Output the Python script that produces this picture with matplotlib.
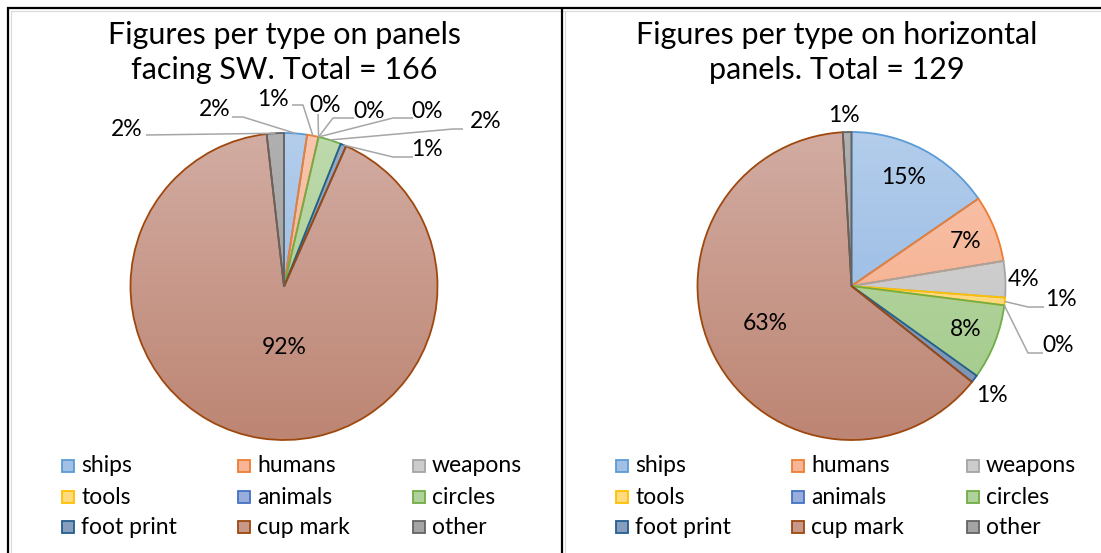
import numpy as np
import matplotlib
matplotlib.use("Agg")
import matplotlib.pyplot as plt
from matplotlib.colors import to_rgb
from matplotlib.patches import Rectangle

W, H = 1101, 553

# ---- data -------------------------------------------------------------
categories = ["ships", "humans", "weapons", "tools", "animals",
              "circles", "foot print", "cup mark", "other"]
# number of figures per type, panels facing SW
sw_counts = [4, 2, 0, 0, 0, 4, 1, 152, 3]
# share of figures per type (%), horizontal panels
horizontal_share = [15.4, 7.0, 3.8, 0.8, 0.0, 7.9, 0.8, 63.4, 0.9]
sw_title = "Figures per type on panels\nfacing SW. Total = 166"
horizontal_title = "Figures per type on horizontal\npanels. Total = 129"

# ---- styling ----------------------------------------------------------
edge_colors = ["#5B9BD5", "#ED7D31", "#A5A5A5", "#FFC000", "#4472C4",
               "#70AD47", "#255E91", "#9E480E", "#636363"]
fill_top = ["#B3CDEB", "#F9C6AE", "#DADADA", "#FFE49E", "#A9BBE2",
            "#BFDAAD", "#97ABC8", "#D2ACA2", "#B0B0B0"]
fill_bottom = ["#8DB3E2", "#F3A47F", "#BDBDBD", "#FFD060", "#889FD5",
               "#A0C987", "#7890B5", "#BD8573", "#989898"]

FONT = ["Lato", "DejaVu Sans"]
plt.rcParams["font.family"] = FONT
LABEL_SIZE = 16.5
TITLE_SIZE = 22

fig = plt.figure(figsize=(W / 100, H / 100), dpi=100)
ax = fig.add_axes([0, 0, 1, 1])


def Y(py):
    """Convert a top-down pixel row into the axes' bottom-up coordinate."""
    return H - py


def gradient(top, bottom, n=256):
    t = np.linspace(0, 1, n)[:, None]
    a = np.array(to_rgb(bottom))
    b = np.array(to_rgb(top))
    return (a * (1 - t) + b * t)[:, None, :]


def draw_pie(values, cx, cy, r, inside, leaders, plain):
    cy = Y(cy)
    wedges, _ = ax.pie(values, startangle=90, counterclock=False,
                       center=(cx, cy), radius=r, frame=True,
                       colors=["none"] * len(values))
    total = sum(values)
    for i, w in enumerate(wedges):
        w.set_edgecolor(edge_colors[i])
        w.set_linewidth(1.3 if values[i] > 0 else 0)
        w.set_zorder(2 + i * 0.01)
        if values[i] > 0:
            im = ax.imshow(gradient(fill_top[i], fill_bottom[i]),
                           extent=(cx - r, cx + r, cy - r, cy + r),
                           origin="lower", aspect="auto", zorder=1,
                           interpolation="bilinear")
            im.set_clip_path(w)

    def label(i):
        return f"{round(100 * values[i] / total)}%"

    for i, (tx, ty) in {**inside, **plain}.items():
        ax.text(tx, Y(ty), label(i), ha="center", va="center",
                fontsize=LABEL_SIZE, color="black", zorder=5)
    for i, (tx, ty, ex, ey, kx, ky) in leaders.items():
        w = wedges[i]
        mid = np.deg2rad((w.theta1 + w.theta2) / 2)
        axp = cx + r * np.cos(mid)
        ayp = cy + r * np.sin(mid)
        ax.plot([ex, kx, axp], [Y(ey), Y(ky), ayp], color="#A6A6A6",
                lw=1.1, zorder=4, solid_capstyle="butt")
        ax.text(tx, Y(ty), label(i), ha="center", va="center",
                fontsize=LABEL_SIZE, color="black", zorder=5)


# left pie: panels facing SW
draw_pie(sw_counts, 284, 286.5, 153.5,
         inside={7: (284, 347)},
         leaders={
             0: (215, 110, 232, 117, 243, 117),
             1: (273, 100, 292, 105, 303, 105),
             2: (325, 106, 318, 114, 318, 114),
             3: (369, 112, 354, 118, 333, 118),
             4: (427, 111, 413, 118, 393, 118),
             5: (486, 121, 463, 129, 453, 129),
             6: (427, 150, 413, 157, 393, 157),
             8: (127, 129, 146, 135, 146, 135),
         },
         plain={})

# right pie: horizontal panels
draw_pie(horizontal_share, 851.5, 286, 154,
         inside={0: (904, 178), 1: (966, 241), 5: (966, 329), 7: (765, 323)},
         leaders={
             3: (1061, 299, 1044, 307, 1028, 307),
             4: (1058, 345, 1043, 353, 1028, 353),
         },
         plain={2: (1024, 280), 6: (992, 395), 8: (844, 116)})

# titles
for cx, title in ((284, sw_title), (837, horizontal_title)):
    for k, line in enumerate(title.split("\n")):
        ax.text(cx, Y(35 + 35 * k), line, ha="center", va="center",
                fontsize=TITLE_SIZE, color="black")

# legends (3 x 3 grid)
col_x = [68, 244, 419]
row_y = [466, 497, 527]
for off in (0, 554):
    for i, name in enumerate(categories):
        r_, c_ = divmod(i, 3)
        mx, my = col_x[c_] + off, Y(row_y[r_])
        mix = 0.5 * (np.array(to_rgb(fill_top[i])) + np.array(to_rgb(fill_bottom[i])))
        ax.add_patch(Rectangle((mx - 6, my - 6), 12, 12, facecolor=mix,
                               edgecolor=edge_colors[i], lw=1.3, zorder=3))
        ax.text(mx + 13, my, name, ha="left", va="center",
                fontsize=LABEL_SIZE, color="black", zorder=5)

# panel frames
gray = "#D9D9D9"
ax.plot([10.5, W], [Y(10.5), Y(10.5)], color=gray, lw=0.8, zorder=0.5)
ax.plot([10.5, 10.5], [Y(10.5), 0], color=gray, lw=0.8, zorder=0.5)
ax.plot([564.5, 564.5], [Y(10.5), 0], color=gray, lw=0.8, zorder=0.5)
ax.plot([7, W], [Y(8), Y(8)], color="black", lw=1.6, zorder=6,
        solid_capstyle="butt")
ax.plot([8, 8], [Y(7), 0], color="black", lw=1.6, zorder=6,
        solid_capstyle="butt")
ax.plot([562, 562], [Y(7), 0], color="black", lw=1.6, zorder=6,
        solid_capstyle="butt")

ax.set_xlim(0, W)
ax.set_ylim(0, H)
ax.set_aspect("auto")
ax.axis("off")

fig.savefig("out.png", dpi=100, facecolor="white")
